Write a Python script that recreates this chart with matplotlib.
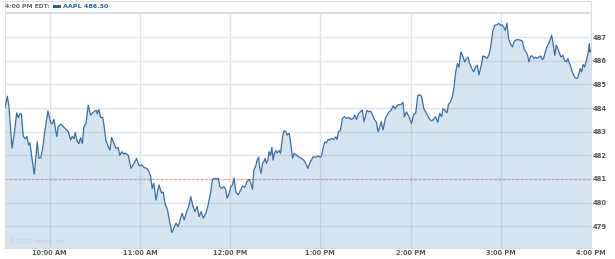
import matplotlib
matplotlib.use("Agg")
import matplotlib.pyplot as plt
from matplotlib.patches import Rectangle

# minutes after the 9:30 open, and AAPL price
minutes = [
    0.3, 1.9, 3.0, 5.0, 6.8, 8.1, 9.2, 10.3, 11.2, 12.5, 13.8, 14.8, 16.1, 16.9, 18.1, 19.8,
    21.8, 22.9, 24.1, 25.4, 26.9, 28.9, 30.7, 31.8, 32.9, 34.7, 35.8, 37.5, 40.2, 42.4, 44.0,
    45.1, 46.2, 47.0, 48.4, 49.5, 50.6, 51.7, 52.8, 54.2, 55.7, 57.3, 58.6, 60.1, 61.3, 61.7,
    62.8, 63.9, 65.3, 66.1, 67.4, 69.0, 70.1, 71.2, 72.8, 74.1, 75.6, 76.7, 77.9, 79.4, 80.1,
    82.3, 84.1, 86.1, 87.8, 89.6, 91.2, 92.7, 94.5, 96.2, 97.2, 98.2, 99.3, 100.7, 102.7,
    104.5, 105.5, 106.7, 108.4, 110.0, 111.3, 112.6, 114.0, 115.5, 117.1, 118.1, 119.5,
    121.1, 122.1, 123.9, 125.1, 126.6, 128.1, 129.4, 130.8, 132.1, 133.9, 135.4, 137.0,
    138.3, 139.4, 141.0, 142.1, 143.2, 144.5, 145.9, 147.2, 148.0, 149.4, 150.5, 151.6,
    152.7, 153.8, 155.4, 156.5, 158.3, 159.8, 161.3, 162.7, 163.8, 164.9, 165.8, 167.1,
    168.0, 168.9, 169.8, 170.6, 171.6, 172.4, 173.3, 174.2, 175.1, 176.0, 176.9, 177.8,
    178.6, 179.5, 180.4, 181.3, 182.6, 183.5, 184.9, 185.9, 187.1, 187.9, 189.3, 190.4,
    191.5, 192.6, 194.2, 195.9, 197.5, 199.0, 200.3, 201.7, 203.0, 204.1, 205.2, 207.0,
    208.5, 210.1, 211.0, 211.8, 213.0, 214.1, 215.2, 216.3, 217.6, 219.0, 220.3, 221.1,
    222.1, 223.4, 224.7, 226.1, 227.4, 229.1, 230.5, 231.8, 232.9, 234.0, 235.4, 236.7,
    237.9, 239.1, 240.2, 241.1, 242.4, 243.5, 244.7, 246.2, 247.3, 248.4, 249.5, 250.6,
    251.7, 253.3, 254.4, 255.7, 257.0, 258.4, 259.7, 261.0, 262.3, 263.7, 265.0, 265.9,
    267.3, 269.0, 270.6, 272.1, 273.4, 274.8, 276.1, 277.4, 278.8, 280.1, 281.4, 282.7,
    284.1, 285.4, 286.7, 288.1, 289.4, 290.7, 291.6, 292.9, 294.2, 295.2, 296.5, 297.8,
    298.9, 300.0, 301.2, 302.2, 303.5, 304.9, 306.0, 307.1, 308.2, 309.3, 310.7, 312.0,
    313.3, 314.4, 315.5, 317.0, 318.2, 319.3, 320.8, 322.2, 323.1, 323.9, 324.8, 325.9,
    327.5, 328.8, 329.7, 330.8, 331.9, 333.0, 334.1, 335.2, 336.4, 337.7, 338.8, 339.9,
    341.4, 343.0, 344.4, 345.4, 346.5, 347.7, 348.7, 349.9, 351.0, 352.1, 353.2, 354.3,
    355.4, 356.5, 357.6, 358.5, 359.6, 360.7, 361.8, 363.2, 363.8, 364.5, 365.1, 366.0,
    366.9, 368.0, 369.1, 370.0, 371.3, 372.4, 373.6, 374.6, 375.8, 376.9, 378.0, 379.1,
    380.2, 381.1, 382.0, 382.9, 383.8, 384.7, 385.8, 386.9, 387.8, 388.5, 388.9, 389.3, 389.8,
]
prices = [
    484.0, 484.5, 484.05, 482.3, 483.07, 483.8, 483.6, 483.77, 483.75, 482.8, 482.7, 482.8,
    482.43, 482.53, 481.94, 481.2, 482.57, 481.87, 481.9, 482.3, 483.07, 483.88, 483.38,
    483.33, 483.52, 482.8, 483.2, 483.32, 483.14, 483.0, 482.65, 482.8, 482.7, 482.96,
    482.57, 482.5, 482.75, 482.5, 483.2, 483.35, 484.12, 483.7, 483.8, 483.88, 483.9,
    483.75, 483.94, 483.6, 483.6, 483.3, 482.65, 482.36, 482.22, 482.76, 482.5, 482.3,
    482.33, 482.0, 482.15, 482.05, 482.1, 482.0, 481.45, 481.66, 481.87, 481.55, 481.6,
    481.49, 481.45, 481.3, 481.1, 480.6, 480.82, 480.11, 480.75, 480.4, 480.45, 479.97,
    479.69, 479.13, 478.73, 478.92, 479.13, 478.99, 479.34, 479.55, 479.27, 479.62,
    479.76, 480.25, 479.9, 479.62, 479.83, 479.41, 479.62, 479.34, 479.55, 479.9, 480.4,
    480.96, 481.03, 481.0, 481.03, 480.68, 480.6, 480.68, 480.54, 480.18, 480.4, 480.68,
    480.75, 481.03, 480.46, 480.33, 480.46, 480.7, 480.65, 480.89, 480.99, 480.82, 480.56,
    481.38, 481.55, 481.8, 481.92, 481.45, 481.24, 481.66, 481.73, 481.87, 481.66, 481.8,
    482.15, 482.0, 482.34, 481.8, 482.08, 482.2, 482.1, 482.2, 482.08, 482.78, 483.04,
    483.0, 482.86, 482.93, 482.5, 481.87, 482.08, 482.0, 481.92, 481.87, 481.8, 481.66,
    481.45, 481.66, 481.8, 481.94, 481.92, 481.97, 481.92, 482.02, 482.3, 482.57, 482.53,
    482.67, 482.65, 482.72, 482.67, 482.78, 482.67, 483.0, 483.07, 483.56, 483.63, 483.56,
    483.6, 483.52, 483.56, 483.7, 483.52, 483.77, 483.84, 483.92, 483.42, 483.7, 483.9,
    483.84, 483.87, 483.7, 483.49, 483.4, 483.0, 483.2, 483.42, 483.07, 483.56, 483.7,
    483.84, 483.9, 484.09, 483.97, 484.09, 484.15, 484.15, 484.24, 483.63, 483.84, 483.63,
    483.35, 483.73, 483.77, 484.53, 484.56, 484.49, 483.98, 483.84, 483.67, 483.53, 483.45,
    483.53, 483.63, 483.4, 483.77, 483.63, 483.98, 483.91, 483.8, 484.15, 484.26, 484.47,
    484.89, 485.53, 485.88, 485.74, 486.37, 486.16, 485.95, 486.09, 486.16, 485.88, 485.67,
    485.53, 485.74, 485.81, 485.4, 485.8, 486.2, 486.18, 486.1, 486.26, 486.51, 486.86,
    487.28, 487.5, 487.52, 487.59, 487.5, 487.52, 487.43, 487.28, 487.59, 486.94, 486.72,
    486.59, 486.8, 486.87, 486.9, 486.87, 486.83, 486.51, 486.4, 486.26, 485.95, 486.2,
    486.2, 486.1, 486.16, 486.1, 486.16, 486.2, 486.05, 486.1, 486.37, 486.59, 486.72,
    486.94, 487.08, 486.87, 486.59, 486.23, 486.66, 486.51, 486.3, 486.16, 486.23, 486.02,
    485.95, 486.09, 485.88, 485.67, 485.46, 485.32, 485.25, 485.27, 485.46, 485.67, 485.53,
    485.84, 485.74, 486.02, 486.23, 486.51, 486.72, 486.37, 486.44,
]
prev_close = 481.0
last_price = "486.30"

hour_ticks = [30, 90, 150, 210, 270, 330, 390]
hour_labels = ["10:00 AM", "11:00 AM", "12:00 PM", "1:00 PM", "2:00 PM", "3:00 PM", "4:00 PM"]
price_ticks = [479, 480, 481, 482, 483, 484, 485, 486, 487]

line_color = "#3b6ea3"
grid_color = "#dfe5ea"
label_color = "#555555"

fig = plt.figure(figsize=(6.15, 2.59), dpi=100)
ax = fig.add_axes([4.5 / 615, 11 / 259, 586.5 / 615, 235 / 259])

# previous close, under the fill so it goes grey inside the shaded area
ax.axhline(prev_close, color="#f0a080", linestyle=(0, (2, 2)), linewidth=0.8, zorder=1)
ax.fill_between(minutes, prices, 470, color="#5a96c8", alpha=0.25, linewidth=0, zorder=2)
ax.plot(minutes, prices, color=line_color, linewidth=0.9, zorder=3)

ax.set_xlim(0, 390)
ax.set_ylim(478.08, 488.02)
ax.set_xticks(hour_ticks)
ax.set_yticks(price_ticks)
ax.grid(True, color=grid_color, linewidth=1.0, zorder=0)
ax.set_axisbelow(True)
ax.tick_params(length=0)
ax.tick_params(axis="x", pad=1.5)
ax.set_xticklabels(hour_labels, fontsize=4.7, fontweight="bold", color=label_color)
ax.yaxis.tick_right()
ax.set_yticklabels([str(p) for p in price_ticks], fontsize=4.9, fontweight="bold", color=label_color)
ax.tick_params(axis="y", pad=1.5)
for side in ax.spines.values():
    side.set_color("#d8dde2")
    side.set_linewidth(0.8)

ax.text(0.008, 0.015, "\u00a9 2013 Yahoo! Inc.", transform=ax.transAxes,
        fontsize=4.3, color="#c5ccd3", va="bottom", ha="left")

# header box with the last quote
fig.patches.append(Rectangle((4.5 / 615, 247 / 259), 586.5 / 615, 11 / 259,
                             transform=fig.transFigure, facecolor="white",
                             edgecolor="#dcdfe2", linewidth=0.8))
fig.text(5 / 615, 252.5 / 259, "4:00 PM EDT:", fontsize=4.4, fontweight="bold",
         color="#666666", va="center", ha="left")
fig.patches.append(Rectangle((53 / 615, 251 / 259), 8 / 615, 3 / 259,
                             transform=fig.transFigure, facecolor="#2f5f8f", linewidth=0))
fig.text(63 / 615, 252.5 / 259, "AAPL " + last_price, fontsize=4.6, fontweight="bold",
         color="#2f5f8f", va="center", ha="left")

fig.savefig("out.png", dpi=100)
